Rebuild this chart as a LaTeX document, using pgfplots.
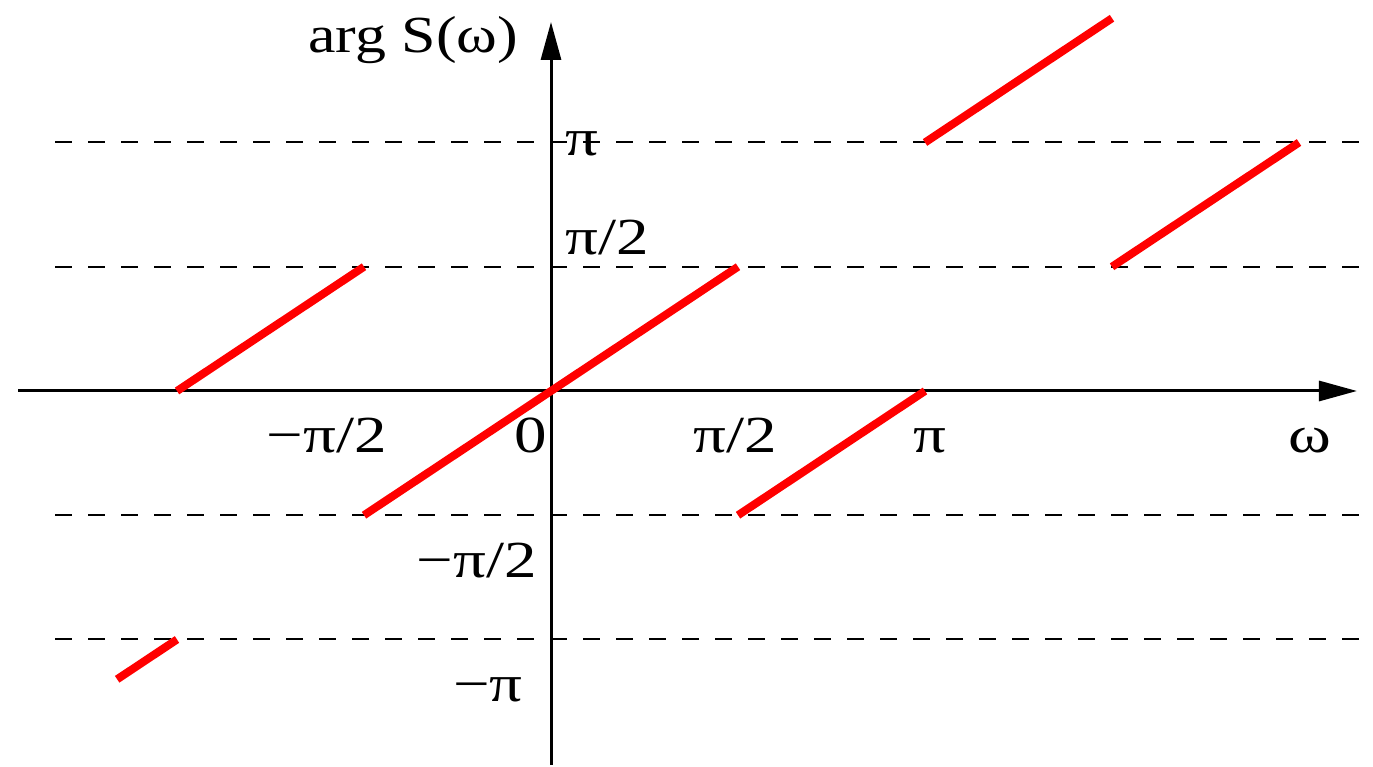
\documentclass[border=0pt]{standalone}
\usepackage{pgfplots}
\pgfplotsset{compat=1.18}
\usepackage{fontspec}
\setmainfont{Liberation Serif}
\usetikzlibrary{arrows.meta}

% horizontal stretch of the labels
\newcommand{\lbl}[2][1.25]{\scalebox{#1}[1]{#2}}

\begin{document}
\begin{tikzpicture}[lab/.style={inner sep=0pt, font=\fontsize{26}{30}\selectfont}]
\begin{axis}[
  x=93.5pt, y=62.125pt,
  axis lines=middle,
  axis line style={line width=1.5pt, -{Triangle[length=19pt,width=10pt]}},
  xmin=-2.85, xmax=4.31, ymin=-3.01, ymax=2.97,
  xtick=\empty, ytick=\empty,
  clip=false,
]
% reference levels at +-pi/2 and +-pi (unit = pi/2)
\pgfplotsinvokeforeach{-2,-1,1,2}{
  \addplot[black, line width=1pt, dash pattern=on 8.5pt off 8pt]
    coordinates {(-2.65,#1) (4.35,#1)};
}
% wrapped phase, branches
\pgfplotsset{phase/.style={red, line width=4pt, line cap=butt}}
\addplot[phase] coordinates {(-2.32,-2.32) (-2,-2)};
\addplot[phase] coordinates {(-2,0) (-1,1)};
\addplot[phase] coordinates {(-1,-1) (1,1)};
\addplot[phase] coordinates {(1,-1) (2,0)};
\addplot[phase] coordinates {(2,2) (3,3)};
\addplot[phase] coordinates {(3,1) (4,2)};

% labels
\node[lab, anchor=base west] at (axis cs:-1.299,2.728) {\lbl[1.19]{arg S(ω)}};
\node[lab, anchor=base east] at (axis cs:-0.877,-0.499) {\lbl{−π/2}};
\node[lab, anchor=base east] at (axis cs:-0.021,-0.499) {\lbl{0}};
\node[lab, anchor=base west] at (axis cs:0.759,-0.499) {\lbl{π/2}};
\node[lab, anchor=base west] at (axis cs:1.936,-0.499) {\lbl{π}};
\node[lab, anchor=base west] at (axis cs:3.941,-0.499) {\lbl{ω}};
\node[lab, anchor=base west] at (axis cs:0.075,1.899) {\lbl{π}};
\node[lab, anchor=base west] at (axis cs:0.075,1.095) {\lbl{π/2}};
\node[lab, anchor=base east] at (axis cs:-0.075,-1.505) {\lbl{−π/2}};
\node[lab, anchor=base east] at (axis cs:-0.150,-2.503) {\lbl{−π}};

% picture extent
\path (axis cs:-2.9465,-3.0101) rectangle (axis cs:4.3957,3.1469);
\end{axis}
\end{tikzpicture}
\end{document}
